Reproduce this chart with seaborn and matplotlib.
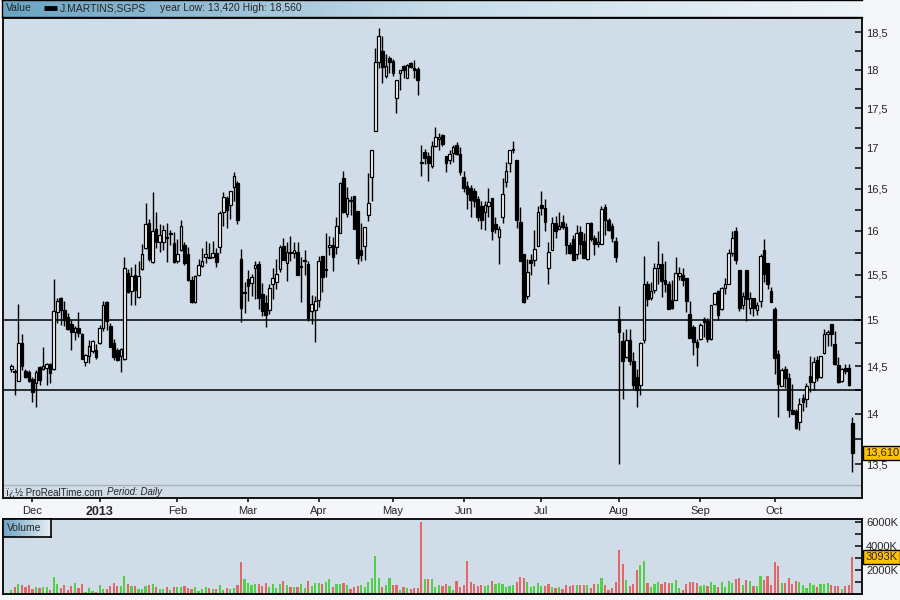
import numpy as np
import pandas as pd
import seaborn as sns
import matplotlib.pyplot as plt
from matplotlib.colors import LinearSegmentedColormap
from matplotlib.ticker import FixedLocator, FixedFormatter, NullFormatter
from matplotlib.transforms import blended_transform_factory

# daily candles (late Nov 2012 -> end Oct 2013)
opens = [
    14.47, 14.45, 14.34, 14.75, 14.45, 14.44, 14.36, 14.32, 14.49, 14.47,
    14.48, 14.52, 14.47, 15.08, 15.24, 15.11, 15.03, 14.95, 14.86, 14.91,
    14.84, 14.54, 14.61, 14.66, 14.67, 14.75, 14.91, 15.19, 14.93, 14.75,
    14.67, 14.61, 14.57, 15.52, 15.32, 15.50, 15.25, 15.56, 15.80, 16.09,
    15.64, 16.03, 15.87, 15.87, 15.93, 15.98, 15.86, 15.66, 15.78, 15.84,
    15.74, 15.44, 15.19, 15.50, 15.60, 15.70, 15.70, 15.70, 15.75, 15.82,
    16.23, 16.39, 16.31, 16.52, 16.57, 15.68, 15.30, 15.45, 15.41, 15.57,
    15.62, 15.28, 15.18, 15.10, 15.40, 15.42, 15.56, 15.83, 15.63, 15.76,
    15.75, 15.76, 15.60, 15.66, 15.62, 15.09, 15.11, 15.22, 15.71, 15.56,
    15.81, 15.84, 15.81, 15.98, 16.63, 16.20, 16.37, 16.42, 16.24, 15.78,
    15.83, 16.19, 16.64, 17.21, 18.10, 18.24, 17.92, 18.15, 18.11, 17.63,
    17.96, 18.05, 17.89, 18.09, 18.02, 18.01, 16.83, 16.95, 16.90, 16.78,
    17.03, 17.11, 17.16, 16.90, 16.85, 16.94, 17.04, 16.92, 16.64, 16.53,
    16.51, 16.47, 16.38, 16.30, 16.23, 16.29, 16.39, 16.08, 15.93, 16.17,
    16.58, 16.81, 16.98, 16.85, 16.11, 15.73, 15.26, 15.67, 15.67, 15.83,
    16.31, 16.27, 15.57, 15.78, 16.10, 16.03, 16.11, 16.05, 15.84, 15.91,
    15.73, 15.99, 15.89, 15.68, 16.09, 15.92, 15.85, 15.85, 16.28, 16.13,
    16.06, 15.89, 15.01, 14.77, 14.60, 14.78, 14.55, 14.38, 14.30, 14.78,
    15.40, 15.24, 15.33, 15.58, 15.62, 15.44, 15.40, 15.22, 15.22, 15.49,
    15.50, 15.46, 15.06, 14.92, 14.76, 14.79, 15.01, 14.99, 14.79, 15.17,
    15.32, 15.12, 15.35, 15.40, 15.75, 16.00, 15.55, 15.16, 15.55, 15.13,
    15.24, 15.11, 15.21, 15.78, 15.63, 15.32, 15.12, 14.63, 14.29, 14.47,
    14.37, 14.04, 14.03, 13.92, 14.17, 14.16, 14.40, 14.33, 14.56, 14.38,
    14.64, 14.84, 14.95, 14.73, 14.51, 14.34, 14.48, 14.48, 13.91,
]
highs = [
    14.52, 14.47, 15.17, 14.84, 14.47, 14.46, 14.38, 14.46, 14.50, 14.70,
    14.53, 14.53, 15.45, 15.24, 15.25, 15.20, 15.07, 15.00, 14.93, 15.08,
    14.85, 14.63, 14.78, 14.78, 14.74, 14.94, 15.20, 15.21, 14.96, 14.79,
    14.69, 14.69, 15.70, 15.56, 15.59, 15.62, 15.66, 15.85, 16.33, 16.14,
    16.46, 16.23, 16.08, 16.07, 16.09, 16.01, 15.99, 15.91, 16.13, 15.87,
    15.81, 15.48, 15.50, 15.68, 15.80, 15.89, 15.86, 15.89, 15.80, 16.24,
    16.46, 16.42, 16.48, 16.70, 16.59, 15.79, 15.42, 15.55, 15.51, 15.65,
    15.65, 15.41, 15.27, 15.40, 15.58, 15.68, 15.84, 15.92, 15.87, 15.94,
    15.87, 15.87, 15.70, 15.78, 15.66, 15.27, 15.26, 15.71, 15.71, 15.98,
    15.94, 15.93, 16.17, 16.58, 16.72, 16.52, 16.42, 16.42, 16.24, 16.10,
    16.05, 16.69, 16.98, 18.28, 18.56, 18.44, 18.20, 18.18, 18.14, 17.87,
    18.00, 18.06, 18.08, 18.10, 18.13, 18.03, 17.04, 16.99, 16.95, 17.09,
    17.26, 17.19, 17.17, 16.90, 16.97, 17.04, 17.07, 17.01, 16.72, 16.60,
    16.55, 16.51, 16.41, 16.35, 16.36, 16.51, 16.39, 16.16, 16.06, 16.63,
    16.83, 16.98, 17.09, 16.85, 16.28, 15.73, 15.68, 15.73, 16.01, 16.30,
    16.47, 16.38, 15.87, 16.16, 16.18, 16.23, 16.19, 16.10, 15.87, 15.96,
    16.07, 16.06, 15.98, 16.10, 16.11, 15.95, 16.00, 16.30, 16.32, 16.15,
    16.09, 15.93, 15.15, 14.86, 14.90, 14.90, 14.65, 14.47, 14.76, 15.71,
    15.43, 15.42, 15.63, 15.89, 15.75, 15.65, 15.43, 15.44, 15.70, 15.59,
    15.57, 15.46, 15.20, 14.94, 14.79, 14.96, 15.03, 15.02, 15.16, 15.30,
    15.33, 15.36, 15.46, 15.79, 16.00, 16.05, 15.55, 15.31, 15.55, 15.30,
    15.24, 15.19, 15.73, 15.91, 15.63, 15.36, 15.14, 14.67, 14.48, 14.50,
    14.43, 14.31, 14.05, 14.17, 14.21, 14.32, 14.61, 14.60, 14.61, 14.61,
    14.90, 14.89, 14.95, 14.88, 14.60, 14.48, 14.52, 14.52, 13.97,
]
lows = [
    14.44, 14.20, 14.34, 14.46, 14.37, 14.33, 14.13, 14.07, 14.30, 14.46,
    14.30, 14.32, 14.46, 14.96, 14.94, 14.93, 14.89, 14.67, 14.78, 14.81,
    14.57, 14.50, 14.53, 14.64, 14.58, 14.74, 14.88, 14.89, 14.70, 14.56,
    14.55, 14.44, 14.56, 15.29, 15.16, 15.16, 15.24, 15.55, 15.79, 15.65,
    15.63, 15.80, 15.76, 15.78, 15.64, 15.84, 15.63, 15.63, 15.77, 15.61,
    15.43, 15.18, 15.18, 15.49, 15.59, 15.63, 15.69, 15.69, 15.59, 15.75,
    16.06, 16.04, 16.14, 16.36, 16.08, 14.97, 15.07, 15.21, 15.26, 15.23,
    15.12, 15.04, 14.92, 15.06, 15.23, 15.34, 15.53, 15.67, 15.43, 15.65,
    15.69, 15.50, 15.19, 15.50, 14.98, 14.95, 14.76, 15.14, 15.31, 15.47,
    15.72, 15.54, 15.73, 15.98, 16.21, 16.17, 16.19, 16.02, 15.62, 15.66,
    15.67, 16.12, 16.36, 17.21, 18.02, 17.83, 17.89, 17.95, 17.91, 17.44,
    17.74, 17.89, 17.89, 18.02, 17.89, 17.67, 16.66, 16.80, 16.59, 16.75,
    17.01, 16.98, 17.03, 16.71, 16.80, 16.83, 16.91, 16.67, 16.46, 16.26,
    16.17, 16.28, 16.12, 16.02, 16.01, 16.16, 15.90, 15.98, 15.62, 16.09,
    16.52, 16.71, 16.94, 16.04, 15.66, 15.18, 15.23, 15.50, 15.60, 15.83,
    16.19, 16.00, 15.39, 15.78, 15.92, 16.02, 16.03, 15.73, 15.73, 15.67,
    15.68, 15.73, 15.69, 15.67, 15.88, 15.72, 15.81, 15.85, 15.96, 16.00,
    15.87, 15.64, 13.50, 14.16, 14.59, 14.51, 14.26, 14.07, 14.20, 14.75,
    15.15, 15.22, 15.29, 15.40, 15.25, 15.30, 15.12, 15.12, 15.22, 15.44,
    15.37, 15.08, 14.80, 14.62, 14.50, 14.78, 14.81, 14.76, 14.78, 15.16,
    15.00, 15.10, 15.28, 15.39, 15.71, 15.62, 15.09, 15.12, 14.98, 15.06,
    15.04, 15.05, 15.14, 15.42, 15.34, 15.19, 14.42, 13.97, 14.29, 14.27,
    13.97, 14.00, 13.85, 13.84, 14.03, 14.07, 14.23, 14.25, 14.34, 14.37,
    14.63, 14.71, 14.71, 14.51, 14.32, 14.33, 14.42, 14.29, 13.42,
]
closes = [
    14.50, 14.44, 14.75, 14.50, 14.38, 14.34, 14.23, 14.44, 14.35, 14.50,
    14.52, 14.43, 15.09, 15.21, 15.10, 15.00, 14.90, 14.86, 14.91, 14.85,
    14.58, 14.62, 14.71, 14.77, 14.60, 14.91, 15.16, 14.98, 14.70, 14.60,
    14.56, 14.68, 15.57, 15.31, 15.49, 15.33, 15.49, 15.74, 16.08, 15.68,
    16.00, 15.87, 15.95, 16.01, 15.92, 15.97, 15.64, 15.73, 16.06, 15.63,
    15.44, 15.19, 15.48, 15.61, 15.66, 15.74, 15.69, 15.75, 15.64, 16.21,
    16.40, 16.25, 16.47, 16.66, 16.13, 15.13, 15.29, 15.37, 15.47, 15.61,
    15.24, 15.09, 15.05, 15.35, 15.46, 15.51, 15.81, 15.67, 15.76, 15.75,
    15.78, 15.50, 15.59, 15.65, 15.02, 15.17, 15.21, 15.66, 15.47, 15.55,
    15.84, 15.70, 16.06, 16.57, 16.23, 16.39, 16.36, 16.02, 15.69, 15.72,
    16.05, 16.33, 16.98, 18.10, 18.45, 18.04, 18.05, 18.10, 17.96, 17.87,
    18.00, 17.99, 18.06, 18.04, 17.99, 17.87, 16.82, 16.87, 16.82, 17.03,
    17.14, 17.14, 17.05, 16.81, 16.93, 17.01, 16.92, 16.70, 16.51, 16.44,
    16.37, 16.36, 16.17, 16.13, 16.31, 16.34, 16.00, 16.03, 16.03, 16.44,
    16.72, 16.97, 16.97, 16.13, 15.66, 15.19, 15.53, 15.63, 15.79, 16.23,
    16.27, 16.11, 15.76, 16.09, 16.00, 16.06, 16.05, 15.84, 15.75, 15.67,
    15.98, 15.85, 15.69, 16.09, 15.91, 15.85, 15.87, 16.26, 16.13, 16.01,
    15.92, 15.70, 14.86, 14.55, 14.78, 14.55, 14.30, 14.25, 14.75, 15.40,
    15.23, 15.32, 15.58, 15.62, 15.43, 15.40, 15.12, 15.13, 15.52, 15.52,
    15.44, 15.21, 14.80, 14.76, 14.70, 14.94, 14.97, 14.79, 15.16, 15.29,
    15.05, 15.35, 15.40, 15.75, 15.92, 15.67, 15.13, 15.26, 15.23, 15.24,
    15.13, 15.16, 15.71, 15.51, 15.40, 15.19, 14.59, 14.31, 14.46, 14.37,
    14.04, 14.00, 13.86, 14.10, 14.12, 14.29, 14.33, 14.54, 14.37, 14.61,
    14.84, 14.86, 14.84, 14.52, 14.33, 14.47, 14.45, 14.30, 13.61,
]
# volume in thousands of shares
volume_k = [
    340, 560, 840, 760, 620, 760, 420, 560, 500, 560,
    620, 340, 1400, 840, 500, 760, 340, 670, 900, 500,
    840, 200, 500, 280, 200, 760, 420, 420, 670, 900,
    670, 670, 1500, 810, 670, 670, 390, 450, 670, 760,
    840, 560, 390, 390, 560, 340, 560, 560, 560, 670,
    500, 390, 560, 280, 390, 560, 480, 390, 390, 760,
    340, 480, 390, 480, 760, 2700, 1260, 950, 760, 840,
    840, 670, 950, 560, 840, 500, 840, 1090, 760, 620,
    560, 560, 840, 500, 1090, 670, 950, 900, 840, 1040,
    1260, 560, 840, 840, 950, 760, 390, 560, 670, 760,
    560, 1010, 1370, 3200, 1370, 560, 760, 1340, 760, 760,
    340, 620, 480, 390, 480, 480, 6050, 1260, 1260, 1260,
    560, 760, 670, 840, 700, 340, 1090, 560, 760, 2770,
    1010, 840, 670, 760, 670, 760, 1090, 840, 920, 840,
    560, 670, 760, 1010, 1430, 1340, 1010, 560, 670, 920,
    670, 670, 840, 560, 500, 560, 420, 760, 670, 760,
    760, 760, 760, 760, 500, 840, 840, 1340, 760, 340,
    500, 1010, 3700, 2520, 1180, 670, 840, 2020, 2440, 2770,
    920, 560, 840, 1010, 840, 1010, 920, 920, 1180, 500,
    340, 840, 1010, 1010, 920, 670, 760, 670, 1010, 760,
    560, 1010, 560, 1090, 920, 1260, 1340, 760, 1180, 1090,
    670, 670, 1510, 1180, 1510, 760, 2690, 2350, 920, 920,
    1340, 840, 1090, 1010, 760, 500, 920, 760, 590, 840,
    840, 920, 760, 670, 670, 420, 670, 760, 3093,
]

month_labels = ["Dec", "2013", "Feb", "Mar", "Apr", "May", "Jun", "Jul", "Aug", "Sep", "Oct"]
month_start = [6, 25, 47, 67, 87, 108, 128, 150, 172, 195, 216]
price_ticks = [13.5, 14.0, 14.5, 15.0, 15.5, 16.0, 16.5, 17.0, 17.5, 18.0, 18.5]
price_minor = [13.75, 14.25, 14.75, 15.25, 15.75, 16.25, 16.75, 17.25, 17.75, 18.25]
level_lines = [15.0, 14.25]
vol_ticks = [2000, 4000, 6000]
vol_minor = [1000, 3000, 5000]
ticker = "J.MARTINS,SGPS"
year_low, year_high = 13.42, 18.56
last_price = 13.61
last_volume = 3093


def comma(v, fmt="%g"):
    return (fmt % v).replace(".", ",")


sns.set_theme(style="ticks")
plt.rcParams["font.family"] = ["Liberation Sans", "DejaVu Sans"]
plt.rcParams["font.size"] = 7.5

df = pd.DataFrame({"day": np.arange(len(closes)), "open": opens, "high": highs,
                   "low": lows, "close": closes, "volume": volume_k})
df["prev"] = df["close"].shift(1).fillna(df["open"])
df["dir"] = np.where(df["close"] >= df["prev"], "up", "down")

bg = "#d0dce7"
xlo, xhi = -2.35, 240.7

fig = plt.figure(figsize=(9, 6), dpi=100)
fig.patch.set_facecolor("#f4f6f9")
ax = fig.add_axes([0.0033, 0.17, 0.9544, 0.80])
axv = fig.add_axes([0.0033, 0.01, 0.9544, 0.125])
axt = fig.add_axes([0.0022, 0.9717, 0.9556, 0.0283])

for a in (ax, axv):
    a.set_facecolor(bg)
    for s in a.spines.values():
        s.set_color("black")
        s.set_linewidth(1.3)

# price panel
ax.vlines(df["day"], df["low"], df["high"], color="black", lw=1.0, zorder=3)
body_lo = np.minimum(df["open"], df["close"])
body_h = np.maximum((df["close"] - df["open"]).abs(), 0.012)
fill = np.where(df["close"] >= df["open"], "white", "black")
ax.bar(df["day"], body_h, bottom=body_lo, width=0.75, color=fill,
       edgecolor="black", linewidth=0.9, zorder=4)
for lvl in level_lines:
    ax.axhline(lvl, color="black", lw=1.1, zorder=2)
ax.axhline(13.30, color="#a8b5c1", lw=1, zorder=2)

ax.set_yscale("log")
ax.set_ylim(13.17, 18.69)
ax.set_xlim(xlo, xhi)
ax.yaxis.tick_right()
ax.yaxis.set_major_locator(FixedLocator(price_ticks))
ax.yaxis.set_major_formatter(FixedFormatter([comma(t) for t in price_ticks]))
ax.yaxis.set_minor_locator(FixedLocator(price_minor))
ax.yaxis.set_minor_formatter(NullFormatter())
ax.tick_params(axis="y", which="both", direction="in", length=5, width=1.3,
               pad=3, labelsize=8, left=False, right=True)
ax.set_xticks(month_start)
ax.set_xticklabels(month_labels)
ax.tick_params(axis="x", which="major", direction="out", length=3, width=1.3,
               pad=3, labelsize=8)
ax.tick_params(axis="x", which="minor", bottom=False)
for lab in ax.get_xticklabels():
    if lab.get_text() == "2013":
        lab.set_fontweight("bold")
        lab.set_fontsize(9)

tr = blended_transform_factory(ax.transAxes, ax.transData)
ax.text(1.004, last_price, comma(last_price, "%.3f"), transform=tr, va="center",
        ha="left", fontsize=8, zorder=10, clip_on=False,
        bbox=dict(boxstyle="square,pad=0.2", fc="#ffc107", ec="black", lw=1))
ax.text(0.004, 0.0125, "ï¿½ ProRealTime.com", transform=ax.transAxes,
        va="center", ha="left", fontsize=7)
ax.text(0.121, 0.0125, "Period: Daily", transform=ax.transAxes,
        va="center", ha="left", fontsize=7, style="italic")

# volume panel (bars on categorical positions 0..n-1, same as day index)
sns.barplot(data=df, x="day", y="volume", hue="dir",
            palette={"up": "#52cf47", "down": "#e06868"},
            dodge=False, errorbar=None, legend=False, width=0.62,
            saturation=1, linewidth=0, ax=axv)
axv.set_xlim(xlo, xhi)
axv.set_ylim(0, 6260)
axv.set_xlabel("")
axv.set_ylabel("")
axv.set_xticks([])
axv.yaxis.tick_right()
axv.yaxis.set_major_locator(FixedLocator(vol_ticks))
axv.yaxis.set_major_formatter(FixedFormatter(["%dK" % v for v in vol_ticks]))
axv.yaxis.set_minor_locator(FixedLocator(vol_minor))
axv.yaxis.set_minor_formatter(NullFormatter())
axv.tick_params(axis="y", which="both", direction="in", length=5, width=1.3,
                pad=3, labelsize=8, left=False, right=True)
trv = blended_transform_factory(axv.transAxes, axv.transData)
axv.text(1.004, last_volume, "%dK" % last_volume, transform=trv, va="center",
         ha="left", fontsize=8, zorder=10, clip_on=False,
         bbox=dict(boxstyle="square,pad=0.2", fc="#ffc107", ec="black", lw=1))

grad = np.linspace(0, 1, 256).reshape(1, -1)
vbox = axv.inset_axes([0.0, 0.76, 0.056, 0.24])
vbox.imshow(grad, aspect="auto", extent=[0, 1, 0, 1],
            cmap=LinearSegmentedColormap.from_list("vb", ["#6ea3c2", "#e9f1f6"]))
vbox.set_xticks([])
vbox.set_yticks([])
for s in vbox.spines.values():
    s.set_linewidth(1.2)
    s.set_color("black")
vbox.text(0.08, 0.5, "Volume", va="center", ha="left", fontsize=7.5)

# title bar
axt.imshow(grad, aspect="auto", extent=[0, 1, 0, 1],
           cmap=LinearSegmentedColormap.from_list("tb", ["#6aa4c4", "#c6dce9", "#eef4f8"]))
axt.set_xlim(0, 1)
axt.set_ylim(0, 1)
axt.set_xticks([])
axt.set_yticks([])
for s in axt.spines.values():
    s.set_linewidth(1.0)
    s.set_color("black")
axt.spines["right"].set_visible(False)
px = 1 / 860.0
axt.text(4 * px, 0.5, "Value", va="center", ha="left", fontsize=7.5)
axt.plot([42 * px, 55 * px], [0.5, 0.5], color="black", lw=3.5, solid_capstyle="butt")
axt.text(58 * px, 0.5, ticker, va="center", ha="left", fontsize=7.5)
axt.text(158 * px, 0.5, "year Low: %s High: %s" % (comma(year_low, "%.3f"), comma(year_high, "%.3f")),
         va="center", ha="left", fontsize=7.5)

fig.savefig("out.png", dpi=100, facecolor=fig.get_facecolor())
